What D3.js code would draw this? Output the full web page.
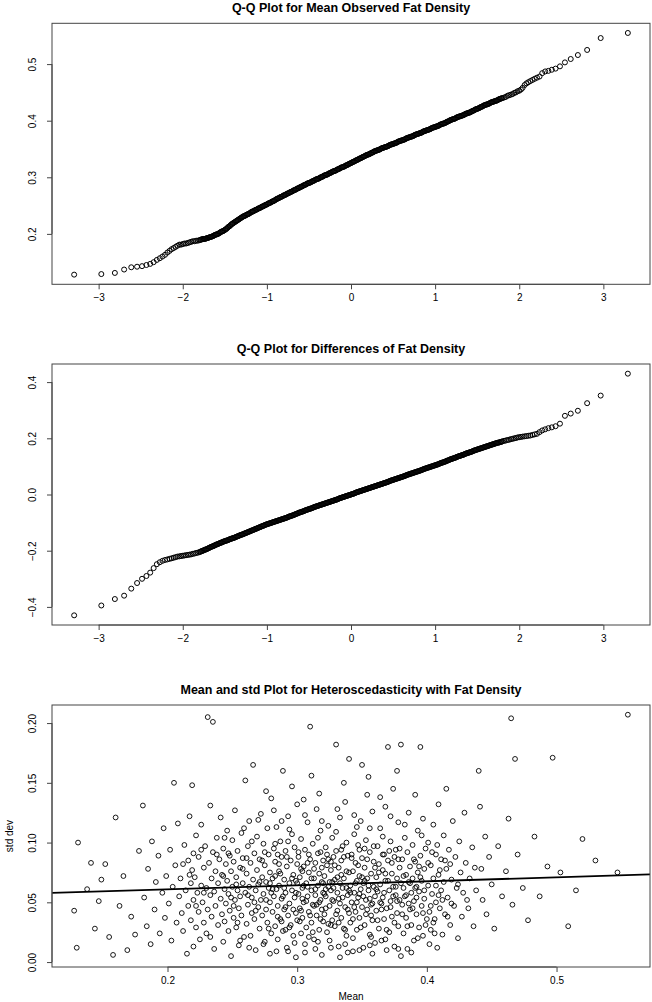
<!DOCTYPE html>
<html><head><meta charset="utf-8">
<script src="https://cdn.jsdelivr.net/npm/d3@7"></script>
<style>body{margin:0;background:#fff}svg{display:block}text{font-family:"Liberation Sans",Arial,Helvetica,sans-serif;fill:#000}</style>
</head><body><svg id="c" width="652" height="1002"></svg>
<script>
// Theoretical normal quantiles (x of both Q-Q plots)
const qqTheoretical = [
-3.291,-2.968,-2.807,-2.697,-2.612,-2.543,-2.484,-2.432,-2.387,-2.346,-2.308,-2.273,-2.241,-2.211,-2.183,-2.157,-2.132,-2.108,-2.086,-2.064,
-2.04,-2.02,-2,
-1.98,-1.96,-1.94,-1.92,-1.9,-1.88,-1.86,-1.84,-1.82,-1.8,-1.78,-1.76,-1.74,-1.72,-1.7,-1.68,-1.66,-1.64,-1.62,-1.6,
-1.58,-1.56,-1.54,-1.52,-1.5,-1.48,-1.46,-1.44,-1.42,-1.4,-1.38,-1.36,-1.34,-1.32,-1.3,-1.28,-1.26,-1.24,-1.22,-1.2,
-1.18,-1.16,-1.14,-1.12,-1.1,-1.08,-1.06,-1.04,-1.02,-1,-0.98,-0.96,-0.94,-0.92,-0.9,-0.88,-0.86,-0.84,-0.82,-0.8,
-0.78,-0.76,-0.74,-0.72,-0.7,-0.68,-0.66,-0.64,-0.62,-0.6,-0.58,-0.56,-0.54,-0.52,-0.5,-0.48,-0.46,-0.44,-0.42,-0.4,
-0.38,-0.36,-0.34,-0.32,-0.3,-0.28,-0.26,-0.24,-0.22,-0.2,-0.18,-0.16,-0.14,-0.12,-0.1,-0.08,-0.06,-0.04,-0.02,0,
0.02,0.04,0.06,0.08,0.1,0.12,0.14,0.16,0.18,0.2,0.22,0.24,0.26,0.28,0.3,0.32,0.34,0.36,0.38,0.4,
0.42,0.44,0.46,0.48,0.5,0.52,0.54,0.56,0.58,0.6,0.62,0.64,0.66,0.68,0.7,0.72,0.74,0.76,0.78,0.8,
0.82,0.84,0.86,0.88,0.9,0.92,0.94,0.96,0.98,1,1.02,1.04,1.06,1.08,1.1,1.12,1.14,1.16,1.18,1.2,
1.22,1.24,1.26,1.28,1.3,1.32,1.34,1.36,1.38,1.4,1.42,1.44,1.46,1.48,1.5,1.52,1.54,1.56,1.58,1.6,
1.62,1.64,1.66,1.68,1.7,1.72,1.74,1.76,1.78,1.8,1.82,1.84,1.86,1.88,1.9,1.92,1.94,1.96,1.98,2,
2.02,2.04,
2.064,2.086,2.108,2.132,2.157,2.183,2.211,2.241,2.273,2.308,2.346,2.387,2.432,2.484,2.543,2.612,2.697,2.807,2.968,3.291,
-1.79,-1.77,-1.75,-1.73,-1.71,-1.69,-1.67,-1.65,-1.63,-1.61,-1.59,-1.57,-1.55,-1.53,-1.51,-1.49,-1.47,-1.45,-1.43,-1.41,
-1.39,-1.37,-1.35,-1.33,-1.31,-1.29,-1.27,-1.25,-1.23,-1.21,-1.19,-1.17,-1.15,-1.13,-1.11,-1.09,-1.07,-1.05,-1.03,-1.01,
-0.99,-0.97,-0.95,-0.93,-0.91,-0.89,-0.87,-0.85,-0.83,-0.81,-0.79,-0.77,-0.75,-0.73,-0.71,-0.69,-0.67,-0.65,-0.63,-0.61,
-0.59,-0.57,-0.55,-0.53,-0.51,-0.49,-0.47,-0.45,-0.43,-0.41,-0.39,-0.37,-0.35,-0.33,-0.31,-0.29,-0.27,-0.25,-0.23,-0.21,
-0.19,-0.17,-0.15,-0.13,-0.11,-0.09,-0.07,-0.05,-0.03,-0.01,0.01,0.03,0.05,0.07,0.09,0.11,0.13,0.15,0.17,0.19,
0.21,0.23,0.25,0.27,0.29,0.31,0.33,0.35,0.37,0.39,0.41,0.43,0.45,0.47,0.49,0.51,0.53,0.55,0.57,0.59,
0.61,0.63,0.65,0.67,0.69,0.71,0.73,0.75,0.77,0.79,0.81,0.83,0.85,0.87,0.89,0.91,0.93,0.95,0.97,0.99,
1.01,1.03,1.05,1.07,1.09,1.11,1.13,1.15,1.17,1.19,1.21,1.23,1.25,1.27,1.29,1.31,1.33,1.35,1.37,1.39,
1.41,1.43,1.45,1.47,1.49,1.51,1.53,1.55,1.57,1.59,1.61,1.63,1.65,1.67,1.69,1.71,1.73,1.75,1.77,1.79
];
// Sorted mean observed fat density (y of Q-Q plot 1)
const qqMeanSample = [
.128,.129,.131,.137,.141,.142,.143,.145,.147,.150,.154,.157,.160,.163,.167,.170,.173,.175,.177,.179,
.181,.181,.182,
.183,.183,.184,.185,.186,.187,.187,.188,.188,.189,.190,.191,.191,.192,.193,.194,.195,.196,.198,.199,
.200,.202,.204,.205,.207,.209,.212,.214,.217,.219,.221,.223,.225,.227,.229,.231,.232,.234,.235,.237,
.239,.240,.242,.243,.245,.246,.248,.249,.251,.252,.254,.255,.257,.258,.260,.262,.263,.265,.266,.268,
.269,.271,.272,.274,.275,.277,.278,.280,.281,.283,.284,.286,.287,.289,.290,.291,.293,.294,.296,.297,
.298,.300,.301,.303,.304,.305,.307,.308,.310,.311,.312,.314,.315,.317,.318,.319,.321,.322,.324,.325,
.327,.328,.330,.331,.333,.334,.336,.337,.339,.340,.341,.343,.344,.346,.347,.348,.349,.351,.352,.353,
.354,.355,.357,.358,.359,.360,.361,.363,.364,.365,.366,.367,.369,.370,.371,.372,.373,.375,.376,.377,
.378,.379,.381,.382,.383,.384,.385,.387,.388,.389,.390,.391,.393,.394,.395,.396,.398,.399,.401,.402,
.403,.404,.406,.407,.408,.409,.410,.412,.413,.414,.415,.417,.418,.420,.421,.422,.424,.425,.427,.428,
.429,.430,.432,.433,.434,.435,.436,.438,.439,.440,.441,.442,.444,.445,.446,.447,.449,.450,.452,.453,
.455,.458,
.463,.466,.468,.470,.472,.474,.476,.478,.484,.487,.488,.490,.492,.496,.503,.509,.516,.525,.546,.555,
.1895,.1905,.191,.1915,.1925,.1935,.1945,.1955,.197,.1985,.1995,.201,.203,.2045,.206,.208,.2105,.213,.2155,.218,
.220,.222,.224,.226,.228,.230,.2315,.233,.2345,.236,.238,.2395,.241,.2425,.244,.2455,.247,.2485,.250,.2515,
.253,.2545,.256,.2575,.259,.261,.2625,.264,.2655,.267,.2685,.270,.2715,.273,.2745,.276,.2775,.279,.2805,.282,
.2835,.285,.2865,.288,.2895,.2905,.292,.2935,.295,.2965,.2975,.299,.3005,.302,.3035,.3045,.306,.3075,.309,.3105,
.3115,.313,.3145,.316,.3175,.3185,.320,.3215,.323,.3245,.326,.3275,.329,.3305,.332,.3335,.335,.3365,.338,.3395,
.3405,.342,.3435,.345,.3465,.3475,.3485,.350,.3515,.3525,.3535,.3545,.356,.3575,.3585,.3595,.3605,.362,.3635,.3645,
.3655,.3665,.368,.3695,.3705,.3715,.3725,.374,.3755,.3765,.3775,.3785,.380,.3815,.3825,.3835,.3845,.386,.3875,.3885,
.3895,.3905,.392,.3935,.3945,.3955,.397,.3985,.400,.4015,.4025,.4035,.405,.4065,.4075,.4085,.4095,.411,.4125,.4135,
.4145,.416,.4175,.419,.4205,.4215,.423,.4245,.426,.4275,.4285,.4295,.431,.4325,.4335,.4345,.4355,.437,.4385,.4395
];
// Sorted differences of fat density (y of Q-Q plot 2)
const qqDiffSample = [
-.430,-.395,-.372,-.360,-.335,-.315,-.300,-.290,-.278,-.262,-.248,-.241,-.236,-.233,-.231,-.229,-.227,-.225,-.223,-.221,
-.220,-.219,-.218,
-.217,-.216,-.215,-.214,-.213,-.211,-.210,-.208,-.207,-.205,-.202,-.200,-.197,-.195,-.192,-.189,-.186,-.184,-.181,-.178,
-.176,-.173,-.171,-.168,-.166,-.164,-.162,-.159,-.157,-.155,-.153,-.150,-.148,-.145,-.143,-.141,-.138,-.136,-.133,-.131,
-.128,-.126,-.123,-.121,-.118,-.116,-.113,-.111,-.108,-.106,-.104,-.102,-.100,-.098,-.096,-.094,-.092,-.090,-.088,-.086,
-.084,-.082,-.079,-.077,-.075,-.073,-.070,-.068,-.065,-.063,-.061,-.059,-.056,-.054,-.052,-.050,-.048,-.045,-.043,-.041,
-.039,-.037,-.035,-.033,-.031,-.029,-.027,-.025,-.023,-.021,-.019,-.017,-.014,-.012,-.010,-.008,-.006,-.004,-.002,.000,
.002,.004,.007,.009,.011,.013,.015,.017,.019,.021,.023,.025,.027,.029,.031,.033,.035,.037,.039,.041,
.043,.045,.048,.050,.052,.054,.056,.058,.060,.062,.064,.066,.069,.071,.073,.075,.077,.079,.081,.083,
.085,.087,.090,.092,.094,.096,.098,.100,.102,.104,.106,.108,.111,.113,.115,.117,.120,.122,.125,.127,
.129,.131,.134,.136,.138,.140,.142,.145,.147,.149,.151,.153,.156,.158,.160,.162,.164,.166,.168,.170,
.172,.174,.176,.178,.180,.182,.184,.185,.187,.189,.191,.192,.194,.195,.197,.198,.200,.201,.203,.204,
.205,.206,
.207,.208,.209,.210,.212,.214,.216,.222,.228,.232,.236,.239,.243,.252,.280,.288,.298,.325,.352,.430,
-.2035,-.201,-.1985,-.196,-.1935,-.1905,-.1875,-.185,-.1825,-.1795,-.177,-.1745,-.172,-.1695,-.167,-.165,-.163,-.1605,-.158,-.156,
-.154,-.1515,-.149,-.1465,-.144,-.142,-.1395,-.137,-.1345,-.132,-.1295,-.127,-.1245,-.122,-.1195,-.117,-.1145,-.112,-.1095,-.107,
-.105,-.103,-.101,-.099,-.097,-.095,-.093,-.091,-.089,-.087,-.085,-.083,-.0805,-.078,-.076,-.074,-.0715,-.069,-.0665,-.064,
-.062,-.060,-.0575,-.055,-.053,-.051,-.049,-.0465,-.044,-.042,-.040,-.038,-.036,-.034,-.032,-.030,-.028,-.026,-.024,-.022,
-.020,-.018,-.0155,-.013,-.011,-.009,-.007,-.005,-.003,-.001,.001,.003,.0055,.008,.010,.012,.014,.016,.018,.020,
.022,.024,.026,.028,.030,.032,.034,.036,.038,.040,.042,.044,.0465,.049,.051,.053,.055,.057,.059,.061,
.063,.065,.0675,.070,.072,.074,.076,.078,.080,.082,.084,.086,.0885,.091,.093,.095,.097,.099,.101,.103,
.105,.107,.1095,.112,.114,.116,.1185,.121,.1235,.126,.128,.130,.1325,.135,.137,.139,.141,.1435,.146,.148,
.150,.152,.1545,.157,.159,.161,.163,.165,.167,.169,.171,.173,.175,.177,.179,.181,.183,.1845,.186,.188
];
// [mean, std dev] per subject (heteroscedasticity plot)
const heteroPoints = [
[.128,.043],[.130,.012],[.131,.100],[.138,.061],[.141,.083],[.144,.028],[.147,.051],[.149,.069],
[.152,.082],[.155,.021],[.158,.006],[.160,.121],[.163,.047],[.166,.072],[.169,.010],[.172,.038],[.175,.023],[.178,.093],
[.181,.131],[.182,.054],[.184,.030],[.185,.078],[.187,.015],[.188,.101],[.190,.044],[.191,.067],[.193,.089],[.194,.024],[.196,.058],[.197,.112],[.198,.037],[.199,.072],
[.201,.049],[.202,.094],[.203,.018],[.204,.063],[.205,.150],[.206,.081],[.207,.033],[.208,.116],[.209,.055],[.210,.070],[.211,.041],[.212,.026],[.213,.098],[.214,.060],[.215,.007],[.216,.085],[.216,.047],[.217,.122],[.218,.066],[.218,.035],[.219,.148],[.219,.077],[.220,.052],[.220,.091],[.220,.013],
[.221,.071],[.222,.029],[.222,.106],[.223,.058],[.224,.042],[.224,.088],[.225,.019],[.226,.064],[.226,.115],[.227,.050],[.228,.079],[.228,.033],[.229,.097],[.230,.062],[.230,.024],[.231,.205],[.231,.044],[.232,.083],[.233,.056],[.233,.131],[.234,.070],[.234,.038],[.235,.201],[.235,.092],[.236,.011],[.236,.059],[.237,.076],[.237,.047],[.238,.104],[.239,.031],[.239,.066],[.240,.086],
[.241,.053],[.241,.121],[.242,.040],[.242,.073],[.243,.017],[.243,.095],[.244,.061],[.244,.034],[.245,.082],[.245,.049],[.246,.110],[.246,.068],[.247,.026],[.247,.057],[.248,.089],[.248,.043],[.249,.076],[.249,.005],[.250,.063],[.250,.102],[.251,.037],[.251,.084],[.252,.052],[.252,.127],[.253,.071],[.253,.029],[.254,.060],[.254,.093],[.255,.045],[.255,.014],[.256,.079],[.256,.055],[.257,.108],[.257,.039],[.258,.066],[.258,.087],[.259,.021],[.260,.152],
[.260,.058],[.261,.074],[.261,.032],[.262,.097],[.262,.048],[.263,.063],[.263,.118],[.264,.022],[.264,.083],[.265,.054],[.265,.041],[.266,.069],[.266,.165],[.267,.091],[.267,.036],[.268,.060],[.268,.010],[.269,.077],[.269,.105],[.270,.046],[.270,.065],[.271,.028],[.271,.086],[.272,.052],[.272,.124],[.273,.071],[.273,.039],[.274,.099],[.274,.057],[.275,.017],[.275,.081],[.276,.044],[.276,.067],[.277,.112],[.277,.033],[.278,.062],[.278,.090],[.279,.050],[.279,.075],[.280,.024],[.280,.137],[.280,.058],[.279,.007],[.276,.143],
[.281,.070],[.281,.042],[.282,.095],[.282,.055],[.283,.030],[.283,.084],[.284,.061],[.284,.113],[.285,.047],[.285,.019],[.286,.076],[.286,.064],[.287,.101],[.287,.036],[.288,.088],[.288,.053],[.289,.160],[.289,.026],[.290,.069],[.290,.044],[.291,.093],[.291,.058],[.292,.012],[.292,.080],[.293,.039],[.293,.122],[.294,.066],[.294,.049],[.295,.085],[.295,.031],[.296,.107],[.296,.060],[.297,.073],[.297,.022],[.298,.054],[.298,.096],[.299,.041],[.299,.068],[.300,.132],[.300,.035],[.300,.082],[.299,.004],[.296,.147],[.293,.009],[.288,.118],[.285,.090],[.283,.072],[.291,.027],
[.301,.057],[.301,.088],[.302,.045],[.302,.071],[.303,.024],[.303,.103],[.304,.062],[.304,.037],[.305,.080],[.305,.050],[.306,.015],[.306,.094],[.307,.066],[.307,.029],[.308,.117],[.308,.055],[.309,.075],[.309,.042],[.310,.197],[.310,.086],[.311,.060],[.311,.033],[.312,.099],[.312,.048],[.313,.070],[.313,.019],[.314,.083],[.314,.056],[.315,.128],[.315,.039],[.316,.064],[.316,.091],[.317,.027],[.317,.074],[.318,.052],[.318,.110],[.319,.044],[.319,.067],[.320,.085],[.320,.034],[.320,.058],[.319,.006],[.317,.141],[.314,.011],[.311,.156],[.309,.021],[.306,.123],[.303,.078],[.318,.092],[.313,.047],[.308,.063],[.304,.053],
[.321,.072],[.321,.040],[.322,.096],[.322,.055],[.323,.025],[.323,.081],[.324,.063],[.324,.114],[.325,.047],[.325,.018],[.326,.077],[.326,.060],[.327,.104],[.327,.035],[.328,.088],[.328,.051],[.329,.069],[.329,.030],[.330,.182],[.330,.093],[.331,.058],[.331,.043],[.332,.079],[.332,.013],[.333,.066],[.333,.121],[.334,.037],[.334,.085],[.335,.054],[.335,.097],[.336,.028],[.336,.070],[.337,.046],[.337,.134],[.338,.062],[.338,.022],[.339,.089],[.339,.056],[.340,.075],[.340,.041],[.340,.170],[.339,.008],[.336,.150],[.333,.004],[.330,.109],[.327,.067],[.324,.032],[.338,.100],[.332,.053],[.326,.084],[.322,.061],[.334,.073],
[.341,.064],[.341,.033],[.342,.090],[.342,.050],[.343,.076],[.343,.020],[.344,.107],[.344,.058],[.345,.042],[.345,.083],[.346,.068],[.346,.027],[.347,.098],[.347,.054],[.348,.072],[.348,.037],[.349,.118],[.349,.061],[.350,.046],[.350,.087],[.351,.012],[.351,.066],[.352,.079],[.352,.031],[.353,.102],[.353,.052],[.354,.070],[.354,.044],[.355,.155],[.355,.060],[.356,.023],[.356,.092],[.357,.048],[.357,.074],[.358,.035],[.358,.126],[.359,.063],[.359,.084],[.360,.055],[.360,.016],[.358,.007],[.354,.140],[.350,.165],[.346,.113],[.343,.009],[.352,.095],[.357,.039],[.348,.057],
[.361,.071],[.361,.043],[.362,.097],[.362,.059],[.363,.028],[.363,.082],[.364,.065],[.364,.112],[.365,.049],[.365,.018],[.366,.077],[.366,.054],[.367,.090],[.367,.036],[.368,.068],[.368,.130],[.369,.045],[.369,.010],[.370,.180],[.370,.085],[.371,.060],[.371,.025],[.372,.101],[.372,.051],[.373,.074],[.373,.038],[.374,.145],[.374,.063],[.375,.088],[.375,.013],[.376,.056],[.376,.094],[.377,.041],[.377,.070],[.378,.117],[.378,.030],[.379,.079],[.379,.052],[.380,.182],[.380,.066],[.380,.005],[.377,.160],[.372,.122],[.366,.105],
[.381,.048],[.381,.086],[.382,.062],[.382,.024],[.383,.104],[.383,.055],[.384,.073],[.384,.037],[.385,.092],[.385,.011],[.386,.067],[.386,.125],[.387,.044],[.387,.080],[.388,.058],[.388,.031],[.389,.098],[.389,.070],[.390,.018],[.390,.051],[.391,.084],[.391,.140],[.392,.063],[.392,.040],[.393,.110],[.393,.075],[.394,.029],[.394,.059],[.395,.180],[.395,.089],[.396,.047],[.396,.068],[.397,.120],[.397,.022],[.398,.078],[.398,.053],[.399,.095],[.400,.036],
[.401,.064],[.401,.100],[.402,.042],[.403,.081],[.403,.027],[.404,.057],[.405,.115],[.405,.070],[.406,.036],[.407,.090],[.407,.050],[.408,.012],[.409,.073],[.409,.132],[.410,.045],[.411,.086],[.411,.060],[.412,.023],[.413,.106],[.413,.067],[.414,.040],[.415,.145],[.415,.078],[.416,.054],[.417,.094],[.418,.031],[.419,.069],[.420,.118],
[.421,.047],[.422,.088],[.423,.062],[.424,.020],[.425,.101],[.426,.075],[.427,.038],[.428,.058],[.429,.125],[.430,.083],[.432,.045],[.433,.070],[.435,.096],[.436,.030],[.438,.060],[.440,.160],
[.441,.130],[.442,.078],[.443,.052],[.445,.105],[.446,.040],[.448,.088],[.450,.065],[.452,.028],[.455,.097],[.458,.055],
[.461,.076],[.463,.120],[.465,.204],[.466,.048],[.468,.170],[.470,.090],[.474,.062],[.478,.035],[.483,.105],[.487,.055],[.493,.080],
[.497,.171],[.503,.075],[.509,.030],[.515,.060],[.520,.103],[.530,.085],[.547,.075],[.555,.207],
[.243,.072],[.247,.091],[.251,.047],[.254,.033],[.258,.078],[.262,.056],[.265,.101],[.268,.043],[.271,.067],[.273,.085],
[.276,.052],[.278,.028],[.281,.061],[.283,.099],[.285,.038],[.287,.074],[.289,.055],[.291,.046],[.292,.088],[.294,.029],
[.296,.070],[.297,.044],[.299,.058],[.301,.092],[.302,.034],[.304,.076],[.305,.064],[.307,.051],[.308,.083],[.310,.039],
[.311,.070],[.312,.025],[.314,.061],[.315,.048],[.316,.104],[.318,.036],[.319,.079],[.321,.057],[.322,.045],[.323,.090],
[.325,.067],[.326,.031],[.327,.052],[.329,.081],[.330,.040],[.331,.071],[.333,.049],[.334,.094],[.335,.062],[.337,.027],
[.338,.076],[.339,.044],[.341,.058],[.342,.087],[.343,.036],[.345,.066],[.346,.050],[.347,.081],[.349,.029],[.350,.071],
[.351,.055],[.353,.040],[.354,.086],[.355,.064],[.357,.021],[.358,.049],[.359,.097],[.361,.061],[.362,.035],[.363,.075],
[.365,.044],[.366,.090],[.367,.058],[.369,.027],[.370,.068],[.372,.046],[.373,.083],[.375,.033],[.376,.063],[.377,.051],
[.379,.095],[.381,.040],[.382,.072],[.384,.056],[.385,.030],[.387,.066],[.389,.045],[.390,.086],[.392,.054],[.393,.020],
[.395,.071],[.397,.041],[.398,.060],[.401,.083],[.403,.047],[.405,.033],[.407,.064],[.410,.077],[.412,.052],[.416,.038],
[.256,.018],[.263,.012],[.274,.015],[.284,.009],[.298,.016],[.306,.008],[.316,.017],[.326,.012],[.337,.015],[.348,.010],
[.356,.014],[.368,.019],[.378,.011],[.388,.008],[.402,.015],[.233,.021],[.228,.058],[.238,.090],[.244,.104],[.259,.112],
[.270,.119],[.282,.127],[.294,.111],[.305,.136],[.319,.118],[.331,.128],[.344,.123],[.356,.112],[.364,.138],[.383,.115],
[.396,.106],[.408,.098],[.418,.082],[.424,.065],[.431,.052],[.437,.079],[.222,.047],[.217,.073],[.212,.082],[.226,.094],
[.300,.066],[.303,.043],[.309,.090],[.313,.078],[.317,.050],[.320,.066],[.324,.086],[.328,.062],[.332,.033],[.336,.088],
[.340,.060],[.344,.046],[.348,.094],[.352,.068],[.356,.053],[.360,.079],[.364,.050],[.368,.074],[.371,.093],[.374,.055],
[.286,.082],[.290,.062],[.293,.101],[.288,.034],[.279,.066],[.275,.092],[.267,.050],[.261,.087],[.253,.065],[.249,.054],
[.378,.086],[.386,.049],[.391,.062],[.394,.080],[.399,.031],[.404,.092],[.409,.056],[.414,.085],[.419,.049],[.406,.024]
];
// Least-squares line std ~ mean
const fitIntercept = 0.0542;
const fitSlope = 0.0335;

const qqXTicks = [-3,-2,-1,0,1,2,3];
const meanYTicks = [0.2,0.3,0.4,0.5];
const diffYTicks = [-0.4,-0.2,0.0,0.2,0.4];
const heteroXTicks = [0.2,0.3,0.4,0.5];
const heteroYTicks = [0.00,0.05,0.10,0.15,0.20];

const titles = ["Q-Q Plot for Mean Observed Fat Density","Q-Q Plot for Differences of Fat Density","Mean and std Plot for Heteroscedasticity with Fat Density"];

const svg = d3.select("#c");
const minus = s => s.replace(/-/g, "\u2212");
const BOX_L = 52, BOX_R = 650;

function ext(vals){ const [a,b]=d3.extent(vals); const d=(b-a)*0.04; return [a-d,b+d]; }

function panel(cfg){
  const g = svg.append("g");
  const x = d3.scaleLinear().domain(ext(cfg.xs)).range([BOX_L, BOX_R]);
  const y = d3.scaleLinear().domain(ext(cfg.ys)).range([cfg.bottom, cfg.top]);
  g.append("g").selectAll("circle").data(cfg.xs.map((v,i)=>[v,cfg.ys[i]])).join("circle")
    .attr("cx", d=>x(d[0])).attr("cy", d=>y(d[1])).attr("r", cfg.r)
    .attr("fill","none").attr("stroke","#000").attr("stroke-width",cfg.sw);
  if (cfg.line){
    const [d0,d1] = x.domain();
    g.append("line").attr("x1",x(d0)).attr("x2",x(d1))
      .attr("y1",y(cfg.line.a+cfg.line.b*d0)).attr("y2",y(cfg.line.a+cfg.line.b*d1))
      .attr("stroke","#000").attr("stroke-width",1.8);
  }
  g.append("rect").attr("x",BOX_L).attr("y",cfg.top).attr("width",BOX_R-BOX_L).attr("height",cfg.bottom-cfg.top)
    .attr("fill","none").attr("stroke","#444").attr("stroke-width",1);
  const xa = g.append("g").attr("transform",`translate(0,${cfg.bottom})`)
    .call(d3.axisBottom(x).tickValues(cfg.xTicks).tickSize(5).tickPadding(3).tickFormat(d=>minus(cfg.xFmt(d))));
  xa.select(".domain").attr("d", `M${x(cfg.xTicks[0])},0H${x(cfg.xTicks[cfg.xTicks.length-1])}`).attr("stroke","#444");
  xa.selectAll(".tick line").attr("stroke","#444");
  xa.selectAll(".tick text").attr("y", 13).attr("dy","0.35em").style("font-size","10px").style("font-family","Liberation Sans, Arial, sans-serif");
  const ya = g.append("g").attr("transform",`translate(${BOX_L},0)`)
    .call(d3.axisLeft(y).tickValues(cfg.yTicks).tickSize(5).tickFormat(d=>minus(cfg.yFmt(d))));
  ya.select(".domain").attr("d", `M0,${y(cfg.yTicks[0])}V${y(cfg.yTicks[cfg.yTicks.length-1])}`).attr("stroke","#444");
  ya.selectAll(".tick line").attr("stroke","#444");
  ya.selectAll(".tick text").attr("x",null).attr("dy",null)
    .attr("transform","translate(-20,0) rotate(-90)").attr("text-anchor","middle").attr("dominant-baseline","central")
    .style("font-size","10px").style("font-family","Liberation Sans, Arial, sans-serif");
  g.append("text").attr("x",(BOX_L+BOX_R)/2).attr("y",cfg.top-15).attr("text-anchor","middle").attr("dominant-baseline","central")
    .style("font-size","12.5px").style("font-weight","bold").text(cfg.title);
  if (cfg.xlab) g.append("text").attr("x",(BOX_L+BOX_R)/2).attr("y",cfg.bottom+29).attr("text-anchor","middle").attr("dominant-baseline","central")
    .style("font-size","10px").text(cfg.xlab);
  if (cfg.ylab) g.append("text").attr("transform",`translate(9,${(cfg.top+cfg.bottom)/2}) rotate(-90)`).attr("text-anchor","middle").attr("dominant-baseline","central")
    .style("font-size","10px").text(cfg.ylab);
}

panel({title:titles[0], top:23.3, bottom:284.3, xs:qqTheoretical, ys:qqMeanSample, r:2.5, sw:1.0,
  xTicks:qqXTicks, xFmt:d3.format("d"), yTicks:meanYTicks, yFmt:d3.format(".1f")});
panel({title:titles[1], top:364, bottom:625, xs:qqTheoretical, ys:qqDiffSample, r:2.5, sw:1.0,
  xTicks:qqXTicks, xFmt:d3.format("d"), yTicks:diffYTicks, yFmt:d3.format(".1f")});
panel({title:titles[2], top:705, bottom:967, xs:heteroPoints.map(d=>d[0]), ys:heteroPoints.map(d=>d[1]), r:2.4, sw:0.9,
  xTicks:heteroXTicks, xFmt:d3.format(".1f"), yTicks:heteroYTicks, yFmt:d3.format(".2f"),
  xlab:"Mean", ylab:"std dev", line:{a:fitIntercept,b:fitSlope}});
</script></body></html>
